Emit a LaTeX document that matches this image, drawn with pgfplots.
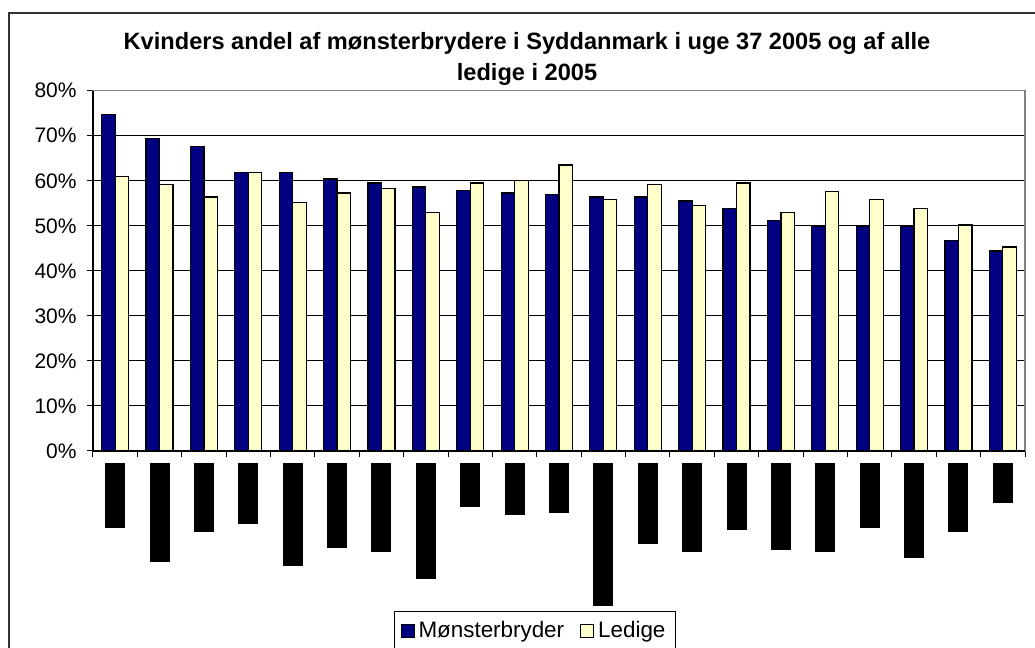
\documentclass[border=0pt]{standalone}
\usepackage{pgfplots}
\usepackage{pgfplotstable}
\pgfplotsset{compat=1.18}
\usepackage{fontspec}
\setmainfont{Liberation Sans}
\definecolor{navyb}{RGB}{0,0,128}
\definecolor{paley}{RGB}{255,255,204}
\pgfplotstableread{
x m l
0 74.8 60.9
1 69.4 59.1
2 67.6 56.4
3 61.9 61.9
4 61.9 55.1
5 60.4 57.3
6 59.5 58.2
7 58.6 52.9
8 57.8 59.5
9 57.3 60.0
10 56.9 63.5
11 56.4 55.9
12 56.4 59.1
13 55.5 54.6
14 53.8 59.5
15 51.1 52.9
16 49.9 57.7
17 49.9 55.9
18 49.9 53.8
19 46.7 50.2
20 44.4 45.3
}\data
\newcommand{\blk}[1]{\rule{10pt}{#1pt}}
\begin{document}
\begin{tikzpicture}
\begin{axis}[
  at={(0,0)}, anchor=south west,
  scale only axis, width=466pt, height=180.15pt,
  ymin=0, ymax=80, xmin=-0.5, xmax=20.5,
  ybar=0pt, bar width=6.75pt,
  ytick={0,10,...,80},
  yticklabels={0\%,10\%,20\%,30\%,40\%,50\%,60\%,70\%,80\%},
  xtick={-0.5,0.5,...,20.5},
  x tick label as interval,
  xticklabels={\blk{32.5},\blk{49.5},\blk{34.5},\blk{30.5},\blk{51.5},\blk{42.5},\blk{44.5},\blk{58},\blk{22},\blk{26},\blk{25},\blk{71.5},\blk{40.5},\blk{44.5},\blk{33.5},\blk{43.5},\blk{44.5},\blk{32.5},\blk{47.5},\blk{34.5},\blk{20}},
  xtick pos=bottom, ytick pos=left,
  tick align=outside, major tick length=3pt,
  tick style={black, line width=0.5pt},
  ymajorgrids, grid style={black, line width=0.5pt},
  axis line style={draw=gray, line width=0.6pt},
  tick label style={font=\fontsize{10.5}{12}\selectfont},
  xticklabel style={anchor=north, inner sep=0pt, yshift=-3pt},
  yticklabel style={anchor=east, inner sep=0pt, xshift=-5pt},
  title={Kvinders andel af mønsterbrydere i Syddanmark i uge 37 2005 og af alle\\ledige i 2005},
  title style={at={(0.4657,1.1296)}, anchor=north, align=center, inner sep=0pt,
    font=\bfseries\fontsize{11.8}{15.5}\selectfont},
  legend columns=2,
  legend style={at={(0.323,-0.444)}, anchor=north west, draw=black, line width=0.5pt,
    font=\fontsize{11.2}{12}\selectfont, inner xsep=3pt, inner ysep=3pt,
    /tikz/every even column/.append style={column sep=6pt}},
  legend image code/.code={\draw[#1, draw=black, line width=0.5pt] (0pt,-3.2pt) rectangle (6.5pt,3.3pt);},
]
\addplot[fill=navyb, draw=black, line width=0.6pt] table[x=x,y=m]{\data};
\addplot[fill=paley, draw=black, line width=0.6pt] table[x=x,y=l]{\data};
\legend{Mønsterbryder, Ledige}
\end{axis}
\draw[black, line width=0.6pt] (0,180.15pt) -- (0,0) -- (466pt,0);
\draw[black!80, line width=1pt] (-42pt,219pt) rectangle (480pt,-110pt);
\pgfresetboundingbox
\useasboundingbox (-46.5pt,-98.5pt) rectangle (471pt,225.5pt);
\end{tikzpicture}
\end{document}
